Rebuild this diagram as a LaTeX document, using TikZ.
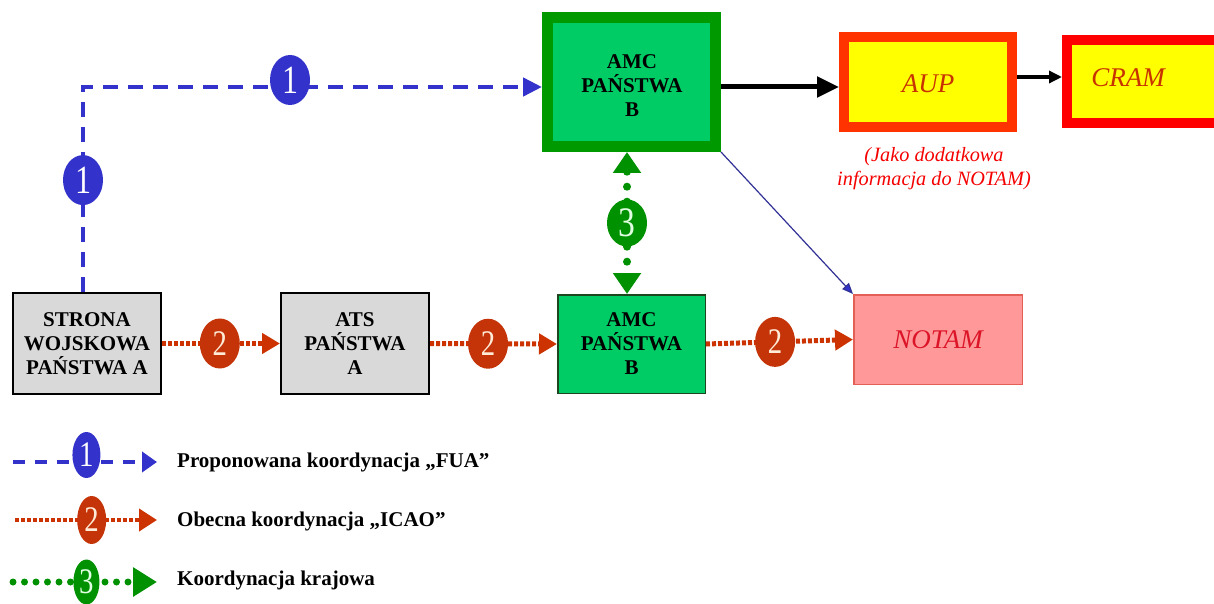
\documentclass[tikz,border=0pt]{standalone}
\usepackage{fontspec}
\setmainfont{Liberation Serif}
\usetikzlibrary{arrows.meta,shapes.geometric}

\definecolor{fuablue}{RGB}{51,51,204}
\definecolor{icaored}{RGB}{204,51,0}
\definecolor{badgered}{RGB}{196,52,8}
\definecolor{natgreen}{RGB}{0,145,0}
\definecolor{amcfill}{RGB}{0,204,102}
\definecolor{amcedge}{RGB}{0,153,0}
\definecolor{amclow}{RGB}{30,70,30}
\definecolor{boxgray}{RGB}{217,217,217}
\definecolor{notamfill}{RGB}{255,153,153}
\definecolor{notamedge}{RGB}{228,96,86}
\definecolor{notamtext}{RGB}{220,20,40}
\definecolor{aupedge}{RGB}{255,51,0}
\definecolor{cramedge}{RGB}{255,0,0}
\definecolor{planyellow}{RGB}{255,255,0}
\definecolor{plantext}{RGB}{200,50,0}
\definecolor{linkblue}{RGB}{50,50,150}
\definecolor{notered}{RGB}{245,0,0}
\definecolor{digitred}{RGB}{255,235,215}
\definecolor{digitgreen}{RGB}{225,255,225}

% narrow badge digit
\newcommand{\badgedigit}[1]{\makebox[0pt]{\scalebox{0.8}[1]{#1}}}

\begin{document}
\begin{tikzpicture}[x=1pt,y=-1pt,
  boxtext/.style={align=center,inner sep=0pt,font=\bfseries\fontsize{21}{24}\selectfont},
  graybox/.style={boxtext,draw=black,line width=2pt,fill=boxgray,
    minimum width=148pt,minimum height=101pt},
  amcbox/.style={boxtext,draw=amclow,line width=1.5pt,fill=amcfill,
    minimum width=147.5pt,minimum height=98.5pt},
  amcmain/.style={draw=amcedge,line width=11pt,fill=amcfill,inner sep=0pt,
    minimum width=168pt,minimum height=129pt},
  planbox/.style={fill=planyellow,line width=10pt,inner sep=0pt},
  plantxt/.style={inner sep=0pt,text=plantext,font=\itshape\fontsize{27}{27}\selectfont},
  notambox/.style={draw=notamedge,line width=1.5pt,fill=notamfill,inner sep=0pt,
    text=notamtext,font=\itshape\fontsize{27}{27}\selectfont,
    minimum width=168.5pt,minimum height=89.5pt},
  badge/.style={ellipse,inner sep=0pt},
  fuabadge/.style={badge,fill=fuablue,text=white},
  icaobadge/.style={badge,fill=badgered,text=digitred},
  natbadge/.style={badge,fill=natgreen,text=digitgreen},
  fualine/.style={draw=fuablue,line width=4.5pt,dash pattern=on 15pt off 10pt},
  icaoline/.style={draw=icaored,line width=5pt,dash pattern=on 4pt off 2pt},
  natline/.style={draw=natgreen,line width=8pt,line cap=round,dash pattern=on 0pt off 15pt},
  legendtxt/.style={anchor=west,inner sep=0pt,font=\bfseries\fontsize{21}{24}\selectfont}
]
\useasboundingbox (0,0) rectangle (1214,604);
\clip (0,0) rectangle (1214,604);
\fill[white] (0,0) rectangle (1214,604);

% ---- boxes ----
\node[graybox] (stro) at (87,343.5) {STRONA\\WOJSKOWA\\PAŃSTWA A};
\node[graybox] (ats) at (355,343.5) {ATS\\PAŃSTWA\\A};
\node[amcbox] (amcl) at (631.5,344) {AMC\\PAŃSTWA\\B};
\node[notambox] (notam) at (938,339.5) {NOTAM};
\node[amcmain] (amcu) at (631.5,82) {};
\node[boxtext] (amcutext) at (632,86) {AMC\\PAŃSTWA\\B};
\node[planbox,draw=aupedge,minimum width=168pt,minimum height=90pt] (aup) at (928,82) {};
\node[plantxt] (auptext) at (928,84) {AUP};
\node[planbox,draw=cramedge,minimum width=153pt,minimum height=83pt] (cram) at (1143.5,81.5) {};
\node[plantxt] (cramtext) at (1128,78) {CRAM};
\node[align=center,inner sep=0pt,text=notered,font=\itshape\fontsize{20.3}{24}\selectfont]
  (note) at (934,169) {(Jako dodatkowa\\informacja do NOTAM)};

% ---- proposed FUA coordination ----
\coordinate (turn) at (83,87);
\draw[fualine,-{Triangle[length=19pt,width=18pt]}]
  ([xshift=-4pt]stro.north) -- node[pos=.546,fuabadge,minimum width=40pt,minimum height=50pt,
      font=\fontsize{40}{40}\selectfont] (b1v) {\badgedigit{1}}
  (turn) -- node[pos=.451,yshift=7pt,fuabadge,minimum width=40pt,minimum height=50pt,
      font=\fontsize{40}{40}\selectfont] (b1h) {\badgedigit{1}}
  ([yshift=-5pt]amcu.west);

% ---- current ICAO coordination ----
\draw[icaoline,-{Triangle[length=18pt,width=20pt]}] (stro.east) --
  node[pos=.49,icaobadge,minimum width=40pt,minimum height=50pt,
    font=\fontsize{36}{36}\selectfont] (b2a) {\badgedigit{2}} (ats.west);
\draw[icaoline,-{Triangle[length=18pt,width=20pt]}] (ats.east) --
  node[pos=.457,icaobadge,minimum width=40pt,minimum height=50pt,
    font=\fontsize{36}{36}\selectfont] (b2b) {\badgedigit{2}} (amcl.west);
\draw[icaoline,-{Triangle[length=18pt,width=20pt]}] (amcl.east) --
  node[pos=.47,icaobadge,minimum width=40pt,minimum height=50pt,
    font=\fontsize{36}{36}\selectfont] (b2c) {\badgedigit{2}} (notam.west);

% ---- national coordination ----
\draw[natline,{Triangle[length=21pt,width=27pt]}-{Triangle[length=21pt,width=27pt]}]
  ([xshift=-4.5pt]amcu.south) --
  node[natbadge,minimum width=40pt,minimum height=47pt,
    font=\fontsize{42}{42}\selectfont] (b3) {\badgedigit{3}}
  ([xshift=-4.5pt]amcl.north);

% ---- plan publication ----
\draw[black,line width=5pt,-{Triangle[length=22pt,width=20pt]}]
  ([yshift=-5pt]amcu.east) -- ([yshift=-5pt]aup.west);
\draw[black,line width=4pt,-{Triangle[length=13pt,width=12pt]}]
  ([yshift=5pt]aup.east) -- ([yshift=4.5pt]cram.west);
\draw[linkblue,line width=1.2pt,-{Triangle[length=11pt,width=9pt,fill=fuablue]}]
  (amcu.south east) -- (notam.north west);

% ---- legend ----
\coordinate (l1a) at (13,462);  \coordinate (l1b) at (157,462);
\coordinate (l2a) at (15,520);  \coordinate (l2b) at (157,520);
\coordinate (l3a) at (13,582);  \coordinate (l3b) at (157,582);
\draw[fualine,line width=4pt,dash pattern=on 12pt off 10pt,-{Triangle[length=15pt,width=20pt]}]
  (l1a) -- node[pos=.51,yshift=7pt,fuabadge,minimum width=28pt,minimum height=46pt,
    font=\fontsize{36}{36}\selectfont] (lb1) {\badgedigit{1}} (l1b);
\draw[icaoline,line width=4pt,-{Triangle[length=18pt,width=22pt]}]
  (l2a) -- node[pos=.54,icaobadge,minimum width=29pt,minimum height=48pt,
    font=\fontsize{36}{36}\selectfont] (lb2) {\badgedigit{2}} (l2b);
\draw[natline,line width=7pt,dash pattern=on 0pt off 11.5pt,-{Triangle[length=24pt,width=28pt]}]
  (l3a) -- node[pos=.51,natbadge,minimum width=26pt,minimum height=45pt,
    font=\fontsize{36}{36}\selectfont] (lb3) {\badgedigit{3}} (l3b);
\node[legendtxt] (lt1) at (177,462) {Proponowana koordynacja „FUA”};
\node[legendtxt] (lt2) at (177,521) {Obecna koordynacja „ICAO”};
\node[legendtxt] (lt3) at (177,580) {Koordynacja krajowa};
\end{tikzpicture}
\end{document}
